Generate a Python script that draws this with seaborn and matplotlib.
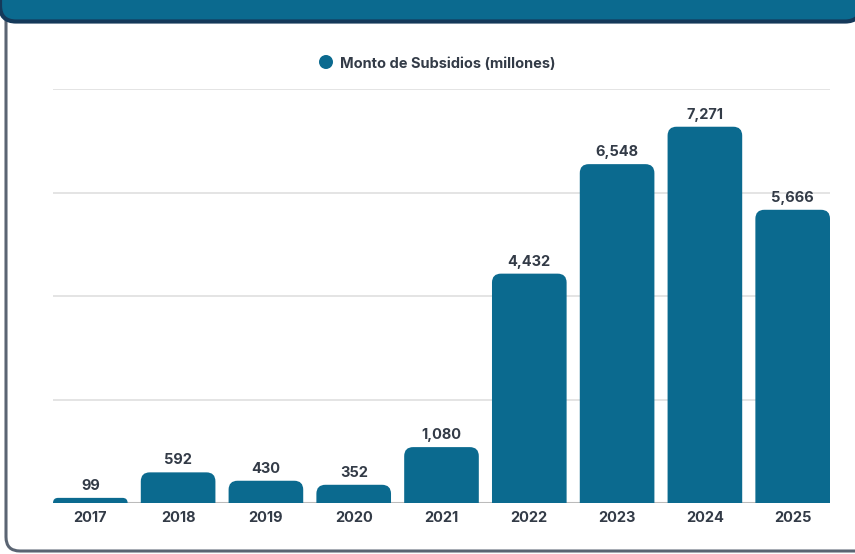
import matplotlib
matplotlib.use("Agg")
import matplotlib.pyplot as plt
import seaborn as sns
import pandas as pd
from matplotlib.path import Path
from matplotlib.patches import PathPatch, FancyBboxPatch, Circle
from matplotlib.transforms import IdentityTransform

years = ["2017", "2018", "2019", "2020", "2021", "2022", "2023", "2024", "2025"]
montos = [99, 592, 430, 352, 1080, 4432, 6548, 7271, 5666]
series_name = "Monto de Subsidios (millones)"

BAR = "#0b6a8f"
TXT = "#333b47"
W, H = 855, 554

sns.set_theme(style="white")
plt.rcParams["font.family"] = ["Inter", "DejaVu Sans"]

fig = plt.figure(figsize=(W / 100, H / 100), dpi=100)
fig.patch.set_facecolor("white")

def py(y):  # top-based pixel -> display
    return H - y

ident = IdentityTransform()

# card border
card = FancyBboxPatch((6, py(551)), 900, 620, boxstyle="round,pad=0,rounding_size=14",
                      facecolor="white", edgecolor="#5b6573", linewidth=2.2,
                      transform=ident, zorder=-2)
fig.patches.append(card)
# header band
band = FancyBboxPatch((0, py(21.5)), 861, 60, boxstyle="round,pad=0,rounding_size=16",
                      facecolor=BAR, edgecolor="#15395a", linewidth=3,
                      transform=ident, zorder=-1)
fig.patches.append(band)

ax = fig.add_axes([53 / W, (H - 503) / H, (830 - 53) / W, (503 - 89) / H])
ax.set_facecolor("none")
ax.set_zorder(1)

df = pd.DataFrame({"year": years, "monto": montos})
sns.barplot(data=df, x="year", y="monto", color=BAR, saturation=1, width=0.85, ax=ax, zorder=3)

ax.set_xlim(-0.425, len(years) - 1 + 0.425)
ax.set_ylim(0, 8000)
ax.set_yticks([0, 2000, 4000, 6000, 8000])
ax.set_yticklabels([])
ax.tick_params(axis="y", length=0)
ax.tick_params(axis="x", length=0, pad=6, labelsize=10.5, labelcolor=TXT)
for lab in ax.get_xticklabels():
    lab.set_fontweight("bold")
ax.set_xlabel("")
ax.set_ylabel("")
for s in ax.spines.values():
    s.set_visible(False)
for yv in [2000, 4000, 6000, 8000]:
    ax.axhline(yv, color="#dddddd", lw=1.1, zorder=1)
ax.axhline(0, color="#bbbbbb", lw=1.5, zorder=2)

fig.canvas.draw()

# replace bars with rounded-top paths
r = 9.0
bars = list(ax.patches)
for p, v in zip(bars, montos):
    bb = p.get_window_extent()
    x0, x1, y0, y1 = bb.x0, bb.x1, bb.y0, bb.y1
    rr = min(r, (x1 - x0) / 2, max(y1 - y0, 0.1))
    verts = [(x0, y0), (x0, y1 - rr), (x0, y1), (x0 + rr, y1), (x1 - rr, y1),
             (x1, y1), (x1, y1 - rr), (x1, y0), (x0, y0)]
    codes = [Path.MOVETO, Path.LINETO, Path.CURVE3, Path.CURVE3, Path.LINETO,
             Path.CURVE3, Path.CURVE3, Path.LINETO, Path.CLOSEPOLY]
    pp = PathPatch(Path(verts, codes), facecolor=BAR, edgecolor="none",
                   transform=ident, zorder=3)
    ax.add_artist(pp)
    p.set_visible(False)
    ax.annotate(f"{v:,}", xy=(p.get_x() + p.get_width() / 2, v), xytext=(0, 5),
                textcoords="offset pixels", ha="center", va="bottom",
                fontsize=10.5, fontweight="bold", color=TXT, zorder=4)

# legend
fig.patches.append(Circle((326, py(62)), 7, facecolor=BAR, edgecolor="none",
                          transform=ident, zorder=3))
fig.text(340 / W, py(62) / H, series_name, ha="left", va="center_baseline",
         fontsize=10.5, fontweight="bold", color=TXT)

fig.savefig("out.png", dpi=100)
